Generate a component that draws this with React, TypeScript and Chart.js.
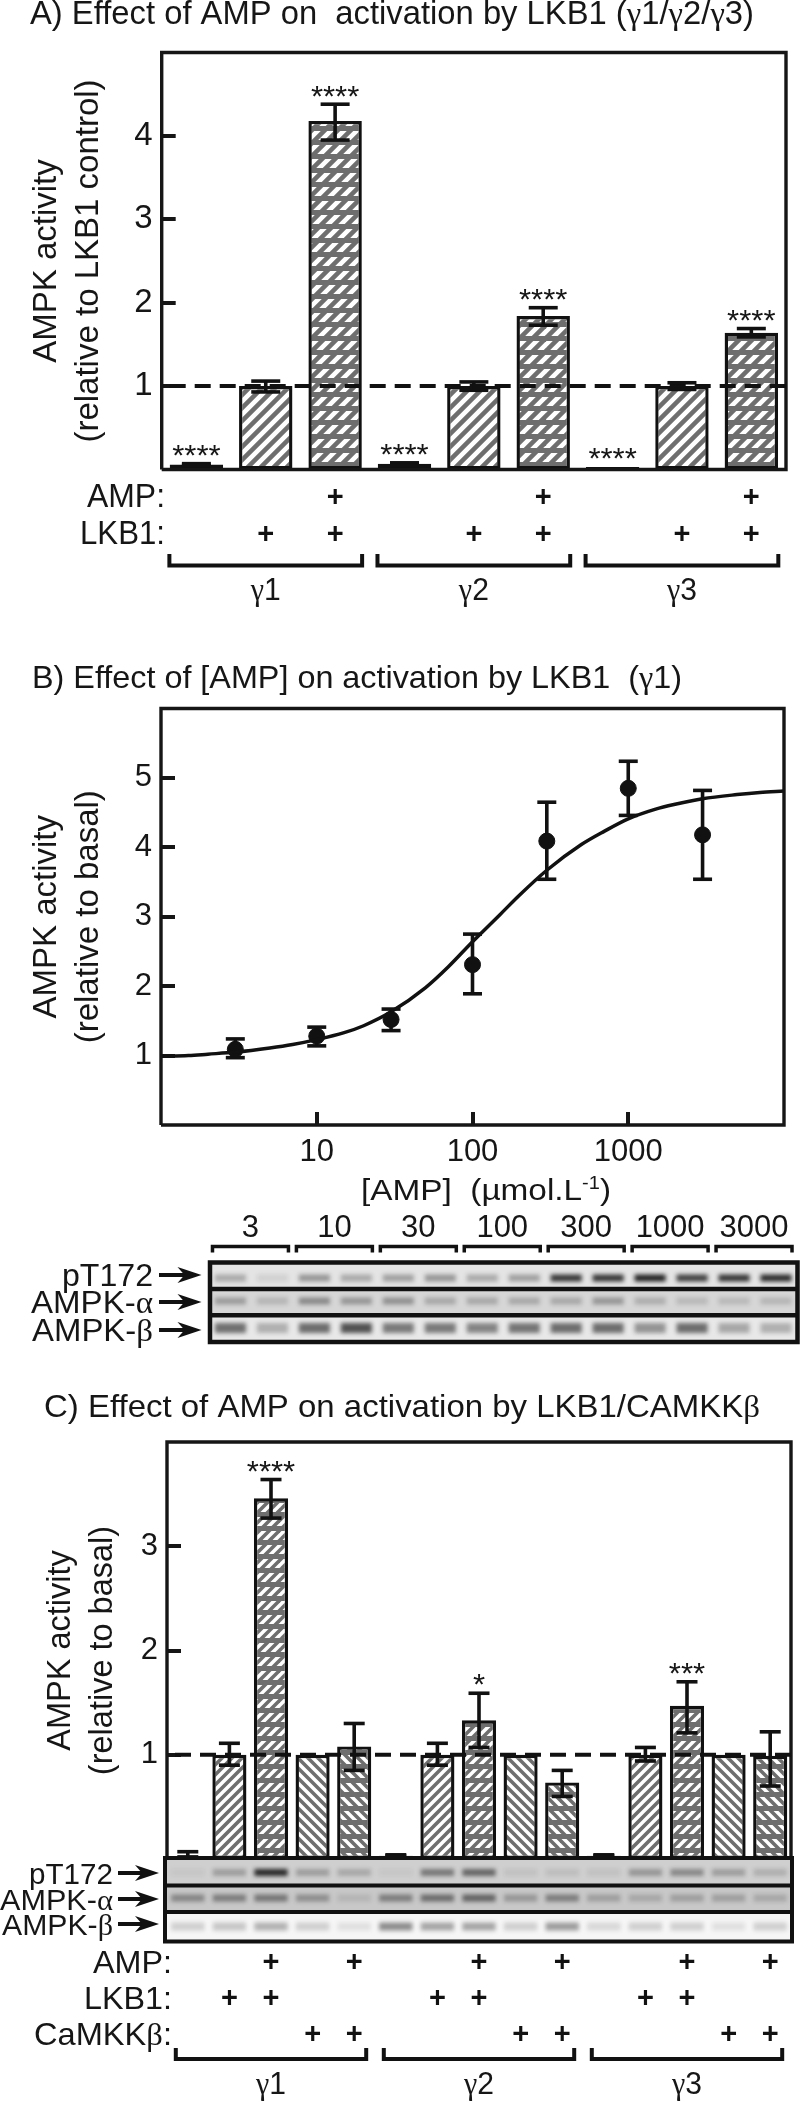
import React, { useEffect, useRef } from "react";
import { Chart, registerables } from "chart.js";

Chart.register(...registerables);

const SANS = '"Liberation Sans", Arial, sans-serif';
const SERIF = '"Liberation Serif", serif';
const INK = "#161616";
const W = 800;
const H = 2102;

// ---------- Panel A ----------
const categoriesA = ["γ1 –", "γ1 LKB1", "γ1 LKB1+AMP", "γ2 –", "γ2 LKB1", "γ2 LKB1+AMP", "γ3 –", "γ3 LKB1", "γ3 LKB1+AMP"];
const valuesA = [0.06, 1.0, 4.18, 0.07, 1.0, 1.84, 0.03, 1.0, 1.64];
const errLowA = [0.05, 0.93, 3.95, 0.05, 0.95, 1.73, 0.03, 0.96, 1.59];
const errHighA = [0.07, 1.06, 4.38, 0.08, 1.05, 1.94, 0.03, 1.04, 1.69];
const starsA = [4, 0, 4, 4, 0, 4, 4, 0, 4];
const fillsA = ["none", "up", "upH", "none", "up", "upH", "none", "up", "upH"];
const ampRowA = [0, 0, 1, 0, 0, 1, 0, 0, 1];
const lkb1RowA = [0, 1, 1, 0, 1, 1, 0, 1, 1];
const yTicksA = [1, 2, 3, 4];
const groupsA = [["γ1", 0, 2], ["γ2", 3, 5], ["γ3", 6, 8]];

// ---------- Panel B ----------
const curveX = [1, 1.5, 2, 3, 5, 7, 10, 15, 20, 30, 50, 70, 100, 150, 200, 300, 500, 700, 1000, 1500, 2000, 3000, 5000, 7000, 10000];
const curveY = [0.99, 1.0, 1.02, 1.05, 1.11, 1.16, 1.23, 1.33, 1.43, 1.63, 1.98, 2.28, 2.64, 3.03, 3.31, 3.67, 4.04, 4.23, 4.41, 4.55, 4.62, 4.7, 4.76, 4.79, 4.81];
const doseB = [3, 10, 30, 100, 300, 1000, 3000];
const meanB = [1.09, 1.28, 1.52, 2.31, 4.09, 4.85, 4.18];
const errLowB = [0.97, 1.14, 1.36, 1.89, 3.54, 4.46, 3.54];
const errHighB = [1.24, 1.41, 1.67, 2.75, 4.65, 5.24, 4.82];
const yTicksB = [1, 2, 3, 4, 5];
const xTicksB = [10, 100, 1000];

const laneDosesB = ["3", "10", "30", "100", "300", "1000", "3000"];
const pT172B = [0.3, 0.1, 0.4, 0.3, 0.35, 0.4, 0.3, 0.35, 0.9, 0.9, 1, 0.85, 0.9, 0.95];
const alphaB = [0.32, 0.18, 0.42, 0.35, 0.38, 0.25, 0.25, 0.25, 0.25, 0.35, 0.22, 0.16, 0.16, 0.18];
const betaB = [0.6, 0.28, 0.62, 0.75, 0.55, 0.55, 0.5, 0.58, 0.62, 0.62, 0.42, 0.62, 0.32, 0.28];

// ---------- Panel C ----------
const categoriesC = ["γ1 –", "γ1 L", "γ1 L+A", "γ1 C", "γ1 C+A", "γ2 –", "γ2 L", "γ2 L+A", "γ2 C", "γ2 C+A", "γ3 –", "γ3 L", "γ3 L+A", "γ3 C", "γ3 C+A"];
const valuesC = [0.02, 1.0, 3.46, 1.0, 1.08, 0.03, 1.0, 1.33, 1.0, 0.735, 0.03, 1.0, 1.47, 1.0, 0.99];
const errLowC = [0.02, 0.9, 3.27, 1.0, 0.85, 0.03, 0.9, 1.07, 1.0, 0.6, 0.03, 0.94, 1.21, 1.0, 0.7];
const errHighC = [0.07, 1.11, 3.64, 1.0, 1.3, 0.04, 1.11, 1.59, 1.0, 0.85, 0.04, 1.07, 1.7, 1.0, 1.22];
const starsC = [0, 0, 4, 0, 0, 0, 0, 1, 0, 0, 0, 0, 3, 0, 0];
const fillsC = ["none", "up", "upH", "down", "downH", "none", "up", "upH", "down", "downH", "none", "up", "upH", "down", "downH"];
const ampRowC = [0, 0, 1, 0, 1, 0, 0, 1, 0, 1, 0, 0, 1, 0, 1];
const lkb1RowC = [0, 1, 1, 0, 0, 0, 1, 1, 0, 0, 0, 1, 1, 0, 0];
const camkkRowC = [0, 0, 0, 1, 1, 0, 0, 0, 1, 1, 0, 0, 0, 1, 1];
const yTicksC = [1, 2, 3];
const groupsC = [["γ1", 0, 4], ["γ2", 5, 9], ["γ3", 10, 14]];

const pT172C = [0.05, 0.28, 0.95, 0.28, 0.22, 0.05, 0.5, 0.6, 0.08, 0.1, 0.08, 0.32, 0.4, 0.28, 0.18];
const alphaC = [0.4, 0.45, 0.5, 0.35, 0.12, 0.45, 0.55, 0.6, 0.3, 0.45, 0.25, 0.2, 0.25, 0.25, 0.2];
const betaC = [0.18, 0.22, 0.32, 0.18, 0.1, 0.5, 0.38, 0.38, 0.18, 0.42, 0.14, 0.18, 0.18, 0.1, 0.18];

// ---------- text helpers ----------
type Run = { t: string; size?: number; dy?: number };

function splitGreek(text: string): Run[] {
  return text.split(/([γαβ])/).filter(Boolean).map((t) => ({ t }));
}
function fontFor(run: Run, size: number) {
  const s = run.size ?? size;
  return `${s}px ${/^[γαβ]$/.test(run.t) ? SERIF : SANS}`;
}
function runsWidth(ctx: any, runs: Run[], size: number) {
  let w = 0;
  runs.forEach((r) => {
    ctx.font = fontFor(r, size);
    w += ctx.measureText(r.t).width;
  });
  return w;
}
function drawRuns(ctx: any, input: string | Run[], x: number, y: number, size: number, width?: number, align: "left" | "center" | "right" = "left") {
  const runs = typeof input === "string" ? splitGreek(input) : input;
  const natural = runsWidth(ctx, runs, size);
  const target = width ?? natural;
  const left = align === "left" ? x : align === "center" ? x - target / 2 : x - target;
  ctx.save();
  ctx.fillStyle = INK;
  ctx.textAlign = "left";
  ctx.textBaseline = "alphabetic";
  ctx.translate(left, y);
  ctx.scale(target / natural, 1);
  let cx = 0;
  runs.forEach((r) => {
    ctx.font = fontFor(r, size);
    ctx.fillText(r.t, cx, r.dy ?? 0);
    cx += ctx.measureText(r.t).width;
  });
  ctx.restore();
}
function drawPlus(ctx: any, x: number, y: number) {
  ctx.save();
  ctx.fillStyle = "#111";
  ctx.font = `bold 29px ${SANS}`;
  ctx.textAlign = "center";
  ctx.textBaseline = "alphabetic";
  ctx.fillText("+", x, y + 10);
  ctx.restore();
}
function line(ctx: any, pts: number[][], width: number, color = "#111") {
  ctx.save();
  ctx.strokeStyle = color;
  ctx.lineWidth = width;
  ctx.lineCap = "butt";
  ctx.lineJoin = "miter";
  ctx.beginPath();
  pts.forEach(([a, b], i) => (i ? ctx.lineTo(a, b) : ctx.moveTo(a, b)));
  ctx.stroke();
  ctx.restore();
}
function arrow(ctx: any, x0: number, x1: number, y: number) {
  line(ctx, [[x0, y], [x1 - 12, y]], 4);
  ctx.save();
  ctx.fillStyle = "#111";
  ctx.beginPath();
  ctx.moveTo(x1, y);
  ctx.lineTo(x1 - 24, y - 8);
  ctx.lineTo(x1 - 17, y);
  ctx.lineTo(x1 - 24, y + 8);
  ctx.closePath();
  ctx.fill();
  ctx.restore();
}

// ---------- hatch fills ----------
function hatch(kind: string, period: number, stroke: number) {
  if (kind === "none") return "#ffffff";
  const size = period * 14;
  const c = document.createElement("canvas");
  c.width = size;
  c.height = size;
  const g = c.getContext("2d") as CanvasRenderingContext2D;
  g.fillStyle = "#fff";
  g.fillRect(0, 0, size, size);
  g.strokeStyle = "#6e6e6e";
  g.lineWidth = stroke;
  const up = kind.startsWith("up");
  for (let k = -size; k <= size * 2; k += period) {
    g.beginPath();
    if (up) {
      g.moveTo(k - 20, size + 20);
      g.lineTo(k + size + 20, -20);
    } else {
      g.moveTo(k - 20, -20);
      g.lineTo(k + size + 20, size + 20);
    }
    g.stroke();
  }
  if (kind.endsWith("H")) {
    g.fillStyle = "#6e6e6e";
    for (let y = 0; y < size; y += 14) g.fillRect(0, y, size, 5);
  }
  return g.createPattern(c, "repeat");
}

function frame(chart: any, withBottom: boolean) {
  const { left, right, top, bottom } = chart.chartArea;
  line(chart.ctx, withBottom
    ? [[left, bottom], [left, top], [right, top], [right, bottom], [left, bottom]]
    : [[left, bottom], [left, top], [right, top], [right, bottom]], 3.4, INK);
}

function baseAxisY(max: number, ticksList: number[], title: string[], titlePad: number, tickFont: number, titleFont: number, plotLeft: number) {
  return {
    type: "linear",
    min: 0,
    max,
    afterFit: (s: any) => { s.width = plotLeft; },
    afterBuildTicks: (s: any) => { s.ticks = ticksList.map((value) => ({ value })); },
    border: { display: false },
    grid: { drawOnChartArea: false, drawTicks: true, tickLength: -14, lineWidth: 4, color: INK },
    ticks: { color: INK, font: { family: SANS, size: tickFont }, padding: 23, autoSkip: false },
    title: { display: true, text: title, color: INK, font: { family: SANS, size: titleFont, lineHeight: 42 / titleFont }, padding: { top: titlePad, bottom: 0 } },
  };
}

// ---------- bar panels ----------
function barPanel(canvas: HTMLCanvasElement, cfg: any) {
  const extras = {
    id: "panelExtras",
    afterDatasetsDraw(chart: any) {
      const ctx = chart.ctx;
      const xs = chart.scales.x;
      const ys = chart.scales.y;
      frame(chart, cfg.closedFrame);
      ctx.save();
      ctx.setLineDash([16, 9]);
      line(ctx, [[chart.chartArea.left + 8, ys.getPixelForValue(1)], [chart.chartArea.right, ys.getPixelForValue(1)]], 4, "#111");
      ctx.restore();
      cfg.values.forEach((_: number, i: number) => {
        const px = xs.getPixelForValue(i);
        const hi = ys.getPixelForValue(cfg.errHigh[i]);
        const lo = ys.getPixelForValue(cfg.errLow[i]);
        if (cfg.errHigh[i] !== cfg.errLow[i]) {
          line(ctx, [[px, hi], [px, lo]], 3.6);
          line(ctx, [[px - cfg.cap, hi], [px + cfg.cap, hi]], 3.6);
          line(ctx, [[px - cfg.cap, lo], [px + cfg.cap, lo]], 3.6);
        }
        if (cfg.stars[i]) {
          const n = cfg.stars[i];
          drawRuns(ctx, "*".repeat(n), px, hi - cfg.starGap + 13, 29, n * 12.1, "center");
        }
      });
      cfg.rows.forEach((row: any) => {
        row.marks.forEach((on: number, i: number) => { if (on) drawPlus(ctx, xs.getPixelForValue(i), row.y); });
        drawRuns(ctx, row.label, cfg.labelRight, row.y + 11.5, cfg.labelFont, row.width, "right");
      });
      cfg.groups.forEach(([name, a, b]: any) => {
        const l = xs.getPixelForValue(a) - cfg.bracketPad;
        const r = xs.getPixelForValue(b) + cfg.bracketPad;
        line(ctx, [[l, cfg.bracketTop], [l, cfg.bracketBottom], [r, cfg.bracketBottom], [r, cfg.bracketTop]], 4);
        drawRuns(ctx, name, (l + r) / 2, cfg.groupBase, 32, 30, "center");
      });
      drawRuns(ctx, cfg.title, cfg.titleX, cfg.titleBase, cfg.titleFontSize, cfg.titleW);
    },
  };
  return new Chart(canvas, {
    type: "bar",
    data: {
      labels: cfg.categories,
      datasets: [{
        data: cfg.values,
        backgroundColor: cfg.fills.map((k: string) => hatch(k, cfg.hatchPeriod, cfg.hatchStroke)),
        borderColor: "#111",
        borderWidth: 3.4,
        borderSkipped: false,
        barPercentage: cfg.barPct,
        categoryPercentage: 1,
      }],
    },
    options: {
      responsive: false,
      animation: false,
      devicePixelRatio: 1,
      layout: { padding: { left: 0, right: W - cfg.right, top: cfg.top, bottom: H - cfg.bottom } },
      plugins: { legend: { display: false }, tooltip: { enabled: false } },
      scales: {
        x: {
          afterFit: (s: any) => { s.height = 0; },
          grid: { display: false },
          border: { display: false },
          ticks: { display: false },
        },
        y: baseAxisY(cfg.yMax, cfg.yTicks, cfg.yTitle, cfg.titlePad, cfg.tickFont, cfg.titleFont, cfg.left),
      },
    },
    plugins: [extras],
  } as any);
}

// ---------- dose-response panel ----------
function curvePanel(canvas: HTMLCanvasElement) {
  const extras = {
    id: "curveExtras",
    beforeDatasetsDraw(chart: any) {
      const xs = chart.scales.x;
      const ys = chart.scales.y;
      doseB.forEach((d, i) => {
        const px = xs.getPixelForValue(d);
        const hi = ys.getPixelForValue(errHighB[i]);
        const lo = ys.getPixelForValue(errLowB[i]);
        line(chart.ctx, [[px, hi], [px, lo]], 3.6);
        line(chart.ctx, [[px - 9.5, hi], [px + 9.5, hi]], 3.6);
        line(chart.ctx, [[px - 9.5, lo], [px + 9.5, lo]], 3.6);
      });
    },
    afterDatasetsDraw(chart: any) {
      const ctx = chart.ctx;
      frame(chart, true);
      drawRuns(ctx, "B) Effect of [AMP] on activation by LKB1  (γ1)", 32, 688.3, 30.5, 650);
      drawRuns(ctx, [{ t: "[AMP]  (µmol.L" }, { t: "-1", size: 18, dy: -11 }, { t: ")" }], 361, 1200, 30, 250);
    },
  };
  return new Chart(canvas, {
    type: "scatter",
    data: {
      datasets: [
        {
          data: curveX.map((x, i) => ({ x, y: curveY[i] })),
          showLine: true,
          borderColor: "#111",
          borderWidth: 3.5,
          pointRadius: 0,
          cubicInterpolationMode: "monotone",
        },
        {
          data: doseB.map((x, i) => ({ x, y: meanB[i] })),
          showLine: false,
          pointRadius: 8,
          backgroundColor: "#111",
          borderColor: "#111",
        },
      ],
    },
    options: {
      responsive: false,
      animation: false,
      devicePixelRatio: 1,
      layout: { padding: { left: 0, right: W - 784, top: 708.5, bottom: H - 1125 - 60 } },
      plugins: { legend: { display: false }, tooltip: { enabled: false } },
      scales: {
        x: {
          type: "logarithmic",
          min: 1,
          max: 10000,
          afterFit: (s: any) => { s.height = 60; },
          afterBuildTicks: (s: any) => { s.ticks = xTicksB.map((value) => ({ value })); },
          border: { display: false },
          grid: { drawOnChartArea: false, drawTicks: true, tickLength: -13, lineWidth: 4, color: INK },
          ticks: { color: INK, font: { family: SANS, size: 31 }, padding: 22, autoSkip: false, maxRotation: 0, callback: (v: any) => String(v) },
        },
        y: baseAxisY(6, yTicksB, ["AMPK activity", "(relative to basal)"], 26, 31, 33, 161),
      },
    },
    plugins: [extras],
  } as any);
}

// ---------- blots ----------
function blotPanel(canvas: HTMLCanvasElement, cfg: any) {
  const tall = cfg.frameBottom - cfg.frameTop;
  const extras = {
    id: "blotExtras",
    beforeDatasetsDraw(chart: any) {
      const ctx = chart.ctx;
      cfg.strips.forEach((s: any) => {
        ctx.fillStyle = s.bg;
        ctx.fillRect(cfg.frameLeft, s.top, cfg.frameRight - cfg.frameLeft, s.bottom - s.top);
      });
      ctx.filter = `blur(${cfg.blur}px)`;
    },
    afterDatasetsDraw(chart: any) {
      const ctx = chart.ctx;
      ctx.filter = "none";
      const lw = cfg.lineW;
      line(ctx, [[cfg.frameLeft, cfg.frameTop], [cfg.frameRight, cfg.frameTop], [cfg.frameRight, cfg.frameBottom], [cfg.frameLeft, cfg.frameBottom], [cfg.frameLeft, cfg.frameTop - lw / 2]], lw);
      cfg.separators.forEach((y: number) => line(ctx, [[cfg.frameLeft, y], [cfg.frameRight, y]], lw));
      cfg.names.forEach((n: any) => {
        drawRuns(ctx, n.t, cfg.nameRight, n.y + 10.5, cfg.nameFont, n.w, "right");
        arrow(ctx, cfg.arrowFrom, cfg.arrowTo, n.y);
      });
      if (cfg.doses) {
        const xs = chart.scales.x;
        cfg.doses.forEach((d: string, i: number) => {
          const a = xs.getPixelForValue(i * 2) - 18;
          const b = xs.getPixelForValue(i * 2 + 1) + 16;
          line(ctx, [[a, 1252.5], [a, 1246.5], [b, 1246.5], [b, 1252.5]], 3.5);
          drawRuns(ctx, d, (a + b) / 2, 1236.5, 31, undefined, "center");
        });
      }
    },
  };
  const frac = (px: number) => (px - cfg.frameTop) / tall;
  const bandSets = cfg.rows.map((r: any) => ({
    data: r.values.map(() => [frac(r.center - r.half), frac(r.center + r.half)]),
    backgroundColor: r.values.map((v: number) => `rgba(15,15,15,${v * 0.92})`),
    borderWidth: 0,
    barPercentage: cfg.bandPct,
    categoryPercentage: 1,
    grouped: false,
  }));
  return new Chart(canvas, {
    type: "bar",
    data: { labels: cfg.lanes, datasets: bandSets },
    options: {
      responsive: false,
      animation: false,
      devicePixelRatio: 1,
      layout: { padding: { left: cfg.left, right: W - cfg.right, top: cfg.frameTop, bottom: H - cfg.frameBottom } },
      plugins: { legend: { display: false }, tooltip: { enabled: false } },
      scales: {
        x: { display: false, grid: { display: false } },
        y: { display: false, min: 0, max: 1, reverse: true, grid: { display: false } },
      },
    },
    plugins: [extras],
  } as any);
}

export default function App() {
  const refA = useRef<HTMLCanvasElement>(null);
  const refB = useRef<HTMLCanvasElement>(null);
  const refBlotB = useRef<HTMLCanvasElement>(null);
  const refC = useRef<HTMLCanvasElement>(null);
  const refBlotC = useRef<HTMLCanvasElement>(null);

  useEffect(() => {
    document.body.style.margin = "0";
    const charts = [
      barPanel(refA.current as HTMLCanvasElement, {
        categories: categoriesA, values: valuesA, errLow: errLowA, errHigh: errHighA, stars: starsA, fills: fillsA,
        yMax: 5, yTicks: yTicksA, yTitle: ["AMPK activity", "(relative to LKB1 control)"], titlePad: 26, tickFont: 33, titleFont: 33,
        left: 161.7, right: 786, top: 52.5, bottom: 469.5, barPct: 0.77, cap: 14.5, starGap: 11.5, closedFrame: true,
        hatchPeriod: 13, hatchStroke: 4.6,
        rows: [
          { label: "AMP:", marks: ampRowA, y: 495.8, width: 78 },
          { label: "LKB1:", marks: lkb1RowA, y: 532.5, width: 85 },
        ],
        labelRight: 165, labelFont: 33,
        groups: groupsA, bracketPad: 27, bracketTop: 554, bracketBottom: 565.5, groupBase: 600,
        title: "A) Effect of AMP on  activation by LKB1 (γ1/γ2/γ3)", titleX: 30, titleBase: 23.5, titleFontSize: 32.5, titleW: 724,
      }),
      curvePanel(refB.current as HTMLCanvasElement),
      blotPanel(refBlotB.current as HTMLCanvasElement, {
        lanes: pT172B.map((_, i) => String(i + 1)), left: 209.5, right: 797, bandPct: 0.74, blur: 1.9, lineW: 4.5,
        frameLeft: 210, frameRight: 797.5, frameTop: 1262.5, frameBottom: 1342,
        strips: [
          { top: 1262, bottom: 1288, bg: "#e4e4e4" },
          { top: 1290, bottom: 1315, bg: "#d6d6d6" },
          { top: 1316, bottom: 1342, bg: "#e8e8e8" },
        ],
        separators: [1289, 1315.3],
        rows: [
          { values: pT172B, center: 1278, half: 3.5 },
          { values: alphaB, center: 1301, half: 3.5 },
          { values: betaB, center: 1328, half: 5 },
        ],
        nameRight: 153, nameFont: 31, arrowFrom: 159, arrowTo: 201.5,
        names: [
          { t: "pT172", y: 1275, w: 91 },
          { t: "AMPK-α", y: 1302, w: 122 },
          { t: "AMPK-β", y: 1330, w: 121 },
        ],
        doses: laneDosesB,
      }),
      barPanel(refC.current as HTMLCanvasElement, {
        categories: categoriesC, values: valuesC, errLow: errLowC, errHigh: errHighC, stars: starsC, fills: fillsC,
        yMax: 4, yTicks: yTicksC, yTitle: ["AMPK activity", "(relative to basal)"], titlePad: 40, tickFont: 31, titleFont: 32.5,
        left: 167, right: 791, top: 1442, bottom: 1859, barPct: 0.82, cap: 10.5, starGap: 12, closedFrame: false,
        hatchPeriod: 10, hatchStroke: 3.6,
        rows: [
          { label: "AMP:", marks: ampRowC, y: 1961, width: 79 },
          { label: "LKB1:", marks: lkb1RowC, y: 1997, width: 88 },
          { label: "CaMKKβ:", marks: camkkRowC, y: 2033, width: 138 },
        ],
        labelRight: 172, labelFont: 32,
        groups: groupsC, bracketPad: 12, bracketTop: 2048, bracketBottom: 2059, groupBase: 2094,
        title: "C) Effect of AMP on activation by LKB1/CAMKKβ", titleX: 44, titleBase: 1417, titleFontSize: 32, titleW: 716,
      }),
      blotPanel(refBlotC.current as HTMLCanvasElement, {
        lanes: categoriesC, left: 167, right: 791, bandPct: 0.8, blur: 1.9, lineW: 4,
        frameLeft: 165, frameRight: 792, frameTop: 1858, frameBottom: 1941.5,
        strips: [
          { top: 1858, bottom: 1885, bg: "#cfcfcf" },
          { top: 1885, bottom: 1912, bg: "#c8c8c8" },
          { top: 1912, bottom: 1941, bg: "#f6f6f6" },
        ],
        separators: [1885.5, 1912],
        rows: [
          { values: pT172C, center: 1872.5, half: 3.5 },
          { values: alphaC, center: 1898, half: 3.5 },
          { values: betaC, center: 1926.5, half: 4 },
        ],
        nameRight: 113, nameFont: 30, arrowFrom: 118, arrowTo: 159,
        names: [
          { t: "pT172", y: 1873, w: 84 },
          { t: "AMPK-α", y: 1899, w: 113 },
          { t: "AMPK-β", y: 1924, w: 111 },
        ],
      }),
    ];
    return () => charts.forEach((c) => c.destroy());
  }, []);

  const style: React.CSSProperties = { position: "absolute", left: 0, top: 0, width: W, height: H, display: "block" };
  return (
    <div style={{ position: "relative", width: W, height: H, background: "#fff", overflow: "hidden" }}>
      <canvas ref={refA} width={W} height={H} style={style} />
      <canvas ref={refB} width={W} height={H} style={style} />
      <canvas ref={refC} width={W} height={H} style={style} />
      <canvas ref={refBlotB} width={W} height={H} style={style} />
      <canvas ref={refBlotC} width={W} height={H} style={style} />
    </div>
  );
}
